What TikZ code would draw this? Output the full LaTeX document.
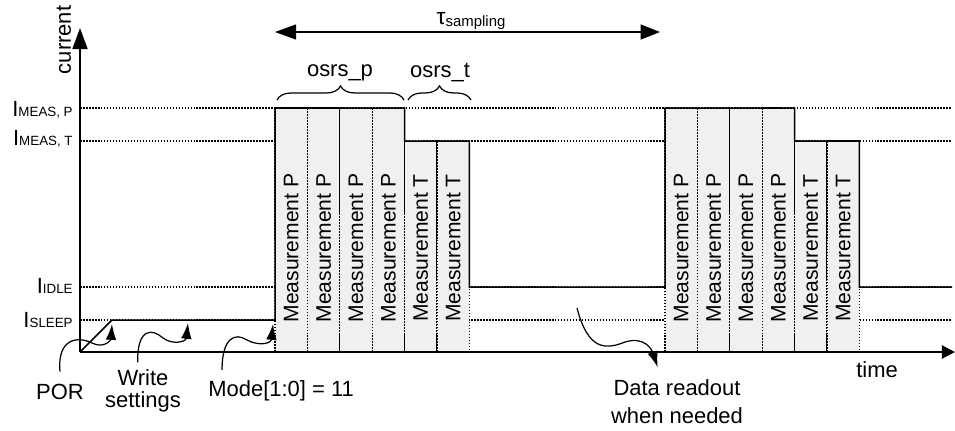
\documentclass[tikz,border=0pt]{standalone}
\usepackage{fontspec}
\setmainfont{Liberation Sans}
\usepackage{tikz}
\usetikzlibrary{arrows.meta}
\usetikzlibrary{decorations.pathreplacing}
\definecolor{cellgray}{RGB}{240,240,240}
\newcommand{\meascell}[4]{ \draw[celledge] ( #1 , 352 ) rectangle ( #1+32.4 , #2 );
  \node[measlab] (#3) at ( #1+16.2 , 248 ) {Measurement #4};}
\newcommand{\ilabel}[3]{\node[ilab] (#1) at ( 73 , #2 ) {I{\fontsize{7.6}{7.6}\selectfont #3}};}

\begin{document}
\begin{tikzpicture}[x=0.02cm,y=-0.02cm,
  level/.style={line width=0.6pt,dash pattern=on 0.9pt off 0.8pt},
  celledge/.style={line width=0.6pt,dash pattern=on 0.9pt off 0.8pt,fill=cellgray},
  measlab/.style={rotate=90,inner sep=0pt,font=\fontsize{12}{12}\selectfont},
  ilab/.style={anchor=base east,inner sep=0pt,font=\fontsize{12.5}{12.5}\selectfont},
  txt/.style={inner sep=0pt,align=center,font=\fontsize{12.5}{12.5}\selectfont},
  wave/.style={line width=0.85pt,line join=miter},
  axis/.style={line width=1.15pt},
  span/.style={line width=0.8pt,{Triangle[length=12pt,width=8.5pt]}-{Triangle[length=11pt,width=8.5pt]}},
  brc/.style={line width=0.7pt,decorate,decoration={brace,amplitude=8pt}},
  callout/.style={line width=0.7pt,-{Latex[length=9pt,width=6pt]}}]
\useasboundingbox (0,0) rectangle (955,430);
% current levels
\foreach \y in {108,141,287,320} \draw[level] (80,\y) -- (952,\y);
\ilabel{imp}{116}{MEAS, P}
\ilabel{imt}{145}{MEAS, T}
\ilabel{iidle}{293}{IDLE}
\ilabel{isleep}{327}{SLEEP}
% first measurement cycle
\foreach \i in {0,...,3} {\meascell{275+\i*32.4}{108}{pa\i}{P}}
\foreach \i in {0,1} {\meascell{404.6+\i*32.4}{141}{ta\i}{T}}
% second measurement cycle
\foreach \i in {0,...,3} {\meascell{665+\i*32.4}{108}{pb\i}{P}}
\foreach \i in {0,1} {\meascell{794.6+\i*32.4}{141}{tb\i}{T}}
% current curve
\draw[wave] (80,352) -- (112,320) -- (275,320) -- (275,108) -- (404.6,108) -- (404.6,141)
  -- (469.4,141) -- (469.4,287) -- (665,287) -- (665,108) -- (794.6,108) -- (794.6,141)
  -- (859.4,141) -- (859.4,287) -- (952,287);
% axes
\coordinate (origin) at (80,352);
\coordinate (ytop) at (80,28);
\coordinate (xend) at (955,352);
\draw[axis,-{Triangle[length=12pt,width=8.5pt]}] (origin) -- (ytop);
\draw[axis,-{Triangle[length=7.5pt,width=7.5pt]}] (origin) -- (xend);
\node[txt,rotate=90] (current) at (64,40) {current};
\node[txt] (time) at (877,370) {time};
% sampling period
\coordinate (tauL) at (275,32);
\coordinate (tauR) at (660,32);
\draw[span] (tauL) -- (tauR);
\node[txt] (tau) at (471,21) {{\fontsize{13}{13}\selectfont τ}\raisebox{-1.5pt}{\fontsize{8.5}{8.5}\selectfont sampling}};
% oversampling braces
\draw[brc] (277,100) -- (404,100);
\draw[brc] (408,100) -- (471,100);
\node[txt] (osrsp) at (340,73) {osrs\_p};
\node[txt] (osrst) at (440,73) {osrs\_t};
% callouts
\node[txt] (por) at (60,392) {POR};
\node[txt,font=\fontsize{12.5}{12.5}\selectfont] (write) at (143,391) {Write\\settings};
\node[txt,anchor=west] (mode) at (208,391) {Mode[1:0] = 11};
\node[txt,font=\fontsize{12.5}{16}\selectfont] (readout) at (677,402) {Data readout\\when needed};
\coordinate (porTip) at (112,324);
\coordinate (writeTip) at (188,323);
\coordinate (modeTip) at (273,324);
\coordinate (readFrom) at (577,308);
\draw[callout] ([yshift=7pt]por.north) .. controls (57,338) and (78,336) .. (92,343)
  .. controls (104,349) and (111,340) .. (porTip);
\draw[callout] ([xshift=-3pt,yshift=4pt]write.north) .. controls (137,328) and (152,328) .. (163,338)
  .. controls (172,345) and (186,342) .. (writeTip);
\draw[callout] ([xshift=8pt,yshift=6pt]mode.north west) .. controls (222,338) and (235,332) .. (247,340)
  .. controls (258,346) and (271,344) .. (modeTip);
\draw[callout] (readFrom) .. controls (588,350) and (605,350) .. (625,342)
  .. controls (645,336) and (652,350) .. ([xshift=-11pt,yshift=7pt]readout.north);
\end{tikzpicture}
\end{document}
